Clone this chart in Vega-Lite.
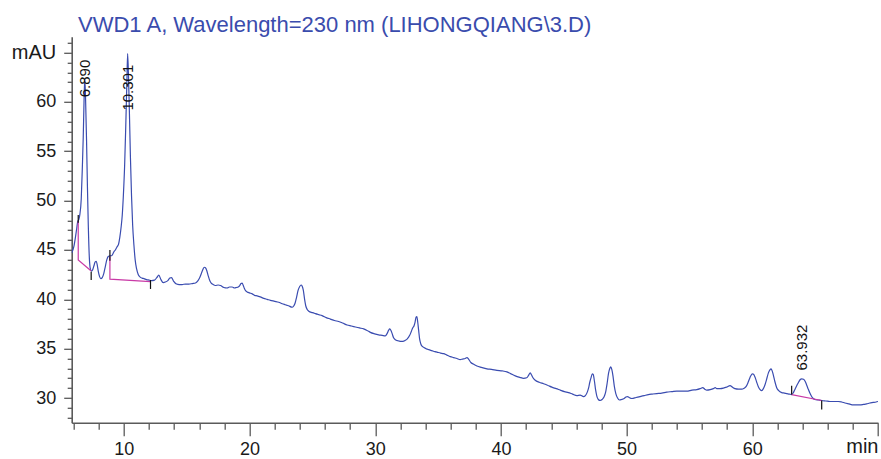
{
  "$schema": "https://vega.github.io/schema/vega-lite/v6.json",
  "width": 806.3,
  "height": 385.9,
  "autosize": {"type": "none"},
  "padding": {"left": 71.7, "top": 36.8, "right": 3, "bottom": 36.3},
  "background": "white",
  "config": {"view": {"stroke": null}, "font": "Liberation Sans"},
  "title": {
    "text": "VWD1 A, Wavelength=230 nm (LIHONGQIANG\\3.D)",
    "anchor": "start",
    "frame": "group",
    "dx": 6.3,
    "dy": 25,
    "offset": 5,
    "baseline": "alphabetic",
    "font": "Liberation Sans",
    "fontSize": 22,
    "fontWeight": "normal",
    "color": "#3a4cad"
  },
  "datasets": {
    "signal": [
      {"t":5.85,"v":44.7},{"t":6.03,"v":45.4},{"t":6.15,"v":46.3},{"t":6.24,"v":47.1},{"t":6.33,"v":47.9},{"t":6.42,"v":48.1},{"t":6.5,"v":48.6},{"t":6.61,"v":50.2},{"t":6.7,"v":53.5},{"t":6.77,"v":56.5},{"t":6.83,"v":60.0},{"t":6.89,"v":62.4},{"t":6.95,"v":60.5},{"t":7.03,"v":56.2},{"t":7.1,"v":51.5},{"t":7.17,"v":47.5},{"t":7.25,"v":44.3},{"t":7.33,"v":43.1},{"t":7.42,"v":42.85},{"t":7.52,"v":43.0},{"t":7.62,"v":43.4},{"t":7.72,"v":43.8},{"t":7.8,"v":43.85},{"t":7.88,"v":43.5},{"t":7.97,"v":42.8},{"t":8.07,"v":42.3},{"t":8.17,"v":42.1},{"t":8.28,"v":42.2},{"t":8.4,"v":42.6},{"t":8.52,"v":43.3},{"t":8.64,"v":44.0},{"t":8.76,"v":44.35},{"t":8.9,"v":44.4},{"t":9.05,"v":44.45},{"t":9.2,"v":44.8},{"t":9.32,"v":45.0},{"t":9.45,"v":45.3},{"t":9.58,"v":45.6},{"t":9.68,"v":46.3},{"t":9.78,"v":47.3},{"t":9.87,"v":48.5},{"t":9.96,"v":50.5},{"t":10.06,"v":53.5},{"t":10.15,"v":57.5},{"t":10.24,"v":62.0},{"t":10.3,"v":64.9},{"t":10.36,"v":63.0},{"t":10.44,"v":59.0},{"t":10.52,"v":54.5},{"t":10.61,"v":50.5},{"t":10.7,"v":47.5},{"t":10.8,"v":45.5},{"t":10.9,"v":44.0},{"t":11.01,"v":43.1},{"t":11.15,"v":42.5},{"t":11.3,"v":42.25},{"t":11.45,"v":42.15},{"t":11.6,"v":42.1},{"t":11.8,"v":42.0},{"t":12.0,"v":41.95},{"t":12.2,"v":41.9},{"t":12.44,"v":41.95},{"t":12.62,"v":42.2},{"t":12.78,"v":42.45},{"t":12.95,"v":42.0},{"t":13.13,"v":41.7},{"t":13.3,"v":41.75},{"t":13.5,"v":41.9},{"t":13.66,"v":42.15},{"t":13.79,"v":42.2},{"t":13.95,"v":41.85},{"t":14.19,"v":41.55},{"t":14.4,"v":41.5},{"t":14.64,"v":41.5},{"t":14.9,"v":41.55},{"t":15.17,"v":41.55},{"t":15.45,"v":41.6},{"t":15.7,"v":41.65},{"t":15.9,"v":41.9},{"t":16.04,"v":42.2},{"t":16.16,"v":42.6},{"t":16.28,"v":43.0},{"t":16.4,"v":43.25},{"t":16.49,"v":43.2},{"t":16.6,"v":42.9},{"t":16.72,"v":42.35},{"t":16.85,"v":41.85},{"t":16.95,"v":41.65},{"t":17.1,"v":41.5},{"t":17.29,"v":41.4},{"t":17.5,"v":41.45},{"t":17.69,"v":41.4},{"t":17.95,"v":41.2},{"t":18.22,"v":41.15},{"t":18.4,"v":41.25},{"t":18.62,"v":41.25},{"t":18.8,"v":41.15},{"t":18.96,"v":41.2},{"t":19.1,"v":41.25},{"t":19.22,"v":41.4},{"t":19.32,"v":41.6},{"t":19.41,"v":41.65},{"t":19.5,"v":41.4},{"t":19.59,"v":41.1},{"t":19.7,"v":40.85},{"t":19.81,"v":40.75},{"t":20.0,"v":40.65},{"t":20.21,"v":40.55},{"t":20.4,"v":40.4},{"t":20.6,"v":40.35},{"t":20.85,"v":40.25},{"t":21.13,"v":40.1},{"t":21.4,"v":40.0},{"t":21.66,"v":39.9},{"t":22.0,"v":39.8},{"t":22.32,"v":39.7},{"t":22.6,"v":39.55},{"t":22.85,"v":39.45},{"t":23.1,"v":39.35},{"t":23.38,"v":39.2},{"t":23.5,"v":39.3},{"t":23.62,"v":39.6},{"t":23.74,"v":40.2},{"t":23.86,"v":40.9},{"t":23.99,"v":41.3},{"t":24.1,"v":41.45},{"t":24.18,"v":41.35},{"t":24.28,"v":40.9},{"t":24.38,"v":40.0},{"t":24.47,"v":39.35},{"t":24.6,"v":38.95},{"t":24.71,"v":38.8},{"t":25.0,"v":38.65},{"t":25.24,"v":38.55},{"t":25.5,"v":38.45},{"t":25.77,"v":38.35},{"t":26.1,"v":38.15},{"t":26.43,"v":38.0},{"t":26.75,"v":37.85},{"t":27.09,"v":37.75},{"t":27.4,"v":37.6},{"t":27.76,"v":37.4},{"t":28.1,"v":37.3},{"t":28.42,"v":37.2},{"t":28.75,"v":37.1},{"t":29.08,"v":37.0},{"t":29.35,"v":36.85},{"t":29.61,"v":36.65},{"t":29.95,"v":36.5},{"t":30.27,"v":36.4},{"t":30.55,"v":36.35},{"t":30.8,"v":36.3},{"t":30.95,"v":36.55},{"t":31.06,"v":36.85},{"t":31.15,"v":37.0},{"t":31.25,"v":36.85},{"t":31.34,"v":36.55},{"t":31.46,"v":36.1},{"t":31.6,"v":35.9},{"t":31.8,"v":35.8},{"t":32.0,"v":35.75},{"t":32.2,"v":35.75},{"t":32.39,"v":35.85},{"t":32.55,"v":36.0},{"t":32.74,"v":36.35},{"t":32.87,"v":36.75},{"t":32.98,"v":37.1},{"t":33.08,"v":37.3},{"t":33.17,"v":37.7},{"t":33.25,"v":38.2},{"t":33.31,"v":38.25},{"t":33.38,"v":37.7},{"t":33.45,"v":36.9},{"t":33.53,"v":36.0},{"t":33.62,"v":35.5},{"t":33.72,"v":35.25},{"t":33.85,"v":35.15},{"t":34.05,"v":35.0},{"t":34.25,"v":34.9},{"t":34.5,"v":34.8},{"t":34.75,"v":34.7},{"t":34.91,"v":34.65},{"t":35.2,"v":34.55},{"t":35.44,"v":34.5},{"t":35.7,"v":34.35},{"t":35.97,"v":34.2},{"t":36.23,"v":34.1},{"t":36.5,"v":34.0},{"t":36.76,"v":33.9},{"t":36.95,"v":33.95},{"t":37.16,"v":34.0},{"t":37.3,"v":34.1},{"t":37.4,"v":34.0},{"t":37.5,"v":33.8},{"t":37.61,"v":33.6},{"t":37.8,"v":33.45},{"t":38.09,"v":33.25},{"t":38.45,"v":33.1},{"t":38.89,"v":32.95},{"t":39.25,"v":32.9},{"t":39.68,"v":32.8},{"t":40.1,"v":32.75},{"t":40.48,"v":32.65},{"t":40.8,"v":32.45},{"t":41.14,"v":32.25},{"t":41.5,"v":32.1},{"t":41.8,"v":32.0},{"t":42.05,"v":32.05},{"t":42.2,"v":32.3},{"t":42.33,"v":32.55},{"t":42.45,"v":32.3},{"t":42.55,"v":32.05},{"t":42.73,"v":31.8},{"t":43.05,"v":31.6},{"t":43.39,"v":31.45},{"t":43.7,"v":31.3},{"t":44.05,"v":31.1},{"t":44.4,"v":30.95},{"t":44.72,"v":30.8},{"t":45.05,"v":30.65},{"t":45.37,"v":30.55},{"t":45.7,"v":30.4},{"t":46.04,"v":30.25},{"t":46.3,"v":30.3},{"t":46.57,"v":30.15},{"t":46.72,"v":30.25},{"t":46.87,"v":30.6},{"t":46.97,"v":31.0},{"t":47.07,"v":31.6},{"t":47.18,"v":32.1},{"t":47.27,"v":32.45},{"t":47.34,"v":32.4},{"t":47.44,"v":31.7},{"t":47.53,"v":30.85},{"t":47.63,"v":30.2},{"t":47.75,"v":29.85},{"t":47.89,"v":29.75},{"t":48.05,"v":29.85},{"t":48.2,"v":30.1},{"t":48.33,"v":30.6},{"t":48.45,"v":31.5},{"t":48.56,"v":32.5},{"t":48.66,"v":33.0},{"t":48.74,"v":33.15},{"t":48.82,"v":32.9},{"t":48.92,"v":32.2},{"t":49.02,"v":31.2},{"t":49.14,"v":30.45},{"t":49.28,"v":30.0},{"t":49.43,"v":29.8},{"t":49.6,"v":29.85},{"t":49.8,"v":29.95},{"t":49.95,"v":30.1},{"t":50.06,"v":30.15},{"t":50.2,"v":30.05},{"t":50.42,"v":29.95},{"t":50.75,"v":30.05},{"t":51.07,"v":30.15},{"t":51.4,"v":30.25},{"t":51.73,"v":30.35},{"t":52.05,"v":30.4},{"t":52.4,"v":30.45},{"t":52.8,"v":30.5},{"t":53.19,"v":30.6},{"t":53.6,"v":30.65},{"t":53.99,"v":30.7},{"t":54.4,"v":30.7},{"t":54.78,"v":30.7},{"t":55.2,"v":30.8},{"t":55.58,"v":30.85},{"t":55.85,"v":30.95},{"t":56.06,"v":31.05},{"t":56.22,"v":30.9},{"t":56.38,"v":30.8},{"t":56.65,"v":30.85},{"t":56.9,"v":30.95},{"t":57.05,"v":31.05},{"t":57.17,"v":30.95},{"t":57.45,"v":30.95},{"t":57.7,"v":31.0},{"t":57.95,"v":31.1},{"t":58.23,"v":31.25},{"t":58.42,"v":31.1},{"t":58.62,"v":30.95},{"t":58.9,"v":30.9},{"t":59.16,"v":30.9},{"t":59.35,"v":31.0},{"t":59.5,"v":31.15},{"t":59.64,"v":31.5},{"t":59.76,"v":31.9},{"t":59.88,"v":32.25},{"t":60.0,"v":32.45},{"t":60.1,"v":32.4},{"t":60.22,"v":32.1},{"t":60.35,"v":31.6},{"t":60.48,"v":31.15},{"t":60.62,"v":30.85},{"t":60.75,"v":30.75},{"t":60.88,"v":30.95},{"t":61.01,"v":31.35},{"t":61.15,"v":31.95},{"t":61.28,"v":32.55},{"t":61.4,"v":32.85},{"t":61.49,"v":32.95},{"t":61.58,"v":32.75},{"t":61.67,"v":32.35},{"t":61.8,"v":31.65},{"t":61.94,"v":31.05},{"t":62.1,"v":30.75},{"t":62.34,"v":30.55},{"t":62.55,"v":30.5},{"t":62.74,"v":30.45},{"t":62.95,"v":30.4},{"t":63.13,"v":30.35},{"t":63.27,"v":30.55},{"t":63.4,"v":30.9},{"t":63.53,"v":31.25},{"t":63.66,"v":31.55},{"t":63.8,"v":31.85},{"t":63.93,"v":31.95},{"t":64.07,"v":31.9},{"t":64.2,"v":31.7},{"t":64.33,"v":31.3},{"t":64.45,"v":30.9},{"t":64.58,"v":30.5},{"t":64.72,"v":30.15},{"t":64.85,"v":29.95},{"t":64.98,"v":29.85},{"t":65.25,"v":29.8},{"t":65.52,"v":29.75},{"t":65.85,"v":29.7},{"t":66.18,"v":29.65},{"t":66.5,"v":29.65},{"t":66.84,"v":29.65},{"t":67.1,"v":29.6},{"t":67.37,"v":29.5},{"t":67.7,"v":29.4},{"t":68.03,"v":29.3},{"t":68.3,"v":29.3},{"t":68.56,"v":29.3},{"t":68.85,"v":29.35},{"t":69.09,"v":29.4},{"t":69.35,"v":29.5},{"t":69.62,"v":29.55},{"t":69.85,"v":29.6},{"t":70.0,"v":29.65}
    ],
    "baselines": [
      {"seg":1,"o":0,"t":6.37,"v":47.9},{"seg":1,"o":1,"t":6.37,"v":44.0},{"seg":1,"o":2,"t":7.38,"v":42.9},
      {"seg":2,"o":0,"t":8.89,"v":44.35},{"seg":2,"o":1,"t":8.89,"v":42.05},{"seg":2,"o":2,"t":12.12,"v":41.8},
      {"seg":3,"o":0,"t":63.13,"v":30.35},{"seg":3,"o":1,"t":65.52,"v":29.75}
    ],
    "marks": [
      {"t":6.37,"a":48.55,"b":47.75},
      {"t":7.4,"a":42.8,"b":41.95},
      {"t":8.89,"a":45.0,"b":43.9},
      {"t":12.12,"a":41.95,"b":41.05},
      {"t":63.13,"a":31.25,"b":30.35},
      {"t":65.52,"a":29.75,"b":28.85}
    ],
    "labels": [
      {"t":6.89,"v":64.28,"label":"6.890"},
      {"t":10.301,"v":63.77,"label":"10.301"},
      {"t":63.932,"v":37.44,"label":"63.932"}
    ]
  },
  "encoding": {
    "x": {
      "field": "t", "type": "quantitative",
      "scale": {"domain": [5.85, 70], "nice": false, "zero": false},
      "axis": {
        "title": null, "grid": false,
        "values": [6,8,10,12,14,16,18,20,22,24,26,28,30,32,34,36,38,40,42,44,46,48,50,52,54,56,58,60,62,64,66,68,70],
        "labelExpr": "datum.value == 70 ? 'min' : (datum.value % 10 == 0 ? datum.label : '')",
        "labelOverlap": false,
        "labelFlush": false,
        "labelAlign": {"condition": {"test": "datum.value == 70", "value": "right"}, "value": "center"},
        "labelFontSize": {"condition": {"test": "datum.value == 70", "value": 20}, "value": 18},
        "labelPadding": {"condition": {"test": "datum.value == 70", "value": 1}, "value": 5},
        "labelFont": "Liberation Sans",
        "labelColor": "#1a1a1a",
        "domainColor": "#5a5a5a", "domainWidth": 1.6,
        "tickColor": "#5a5a5a", "tickWidth": 1.3,
        "tickSize": {"condition": {"test": "datum.value % 10 == 0", "value": 13}, "value": 6.5}
      }
    },
    "y": {
      "field": "v", "type": "quantitative",
      "scale": {"domain": [27.5, 66.6], "nice": false, "zero": false},
      "axis": {
        "title": null, "grid": false,
        "values": [28,29,30,31,32,33,34,35,36,37,38,39,40,41,42,43,44,45,46,47,48,49,50,51,52,53,54,55,56,57,58,59,60,61,62,63,64,65,66],
        "labelExpr": "datum.value == 65 ? 'mAU' : (datum.value % 5 == 0 ? datum.label : '')",
        "labelOverlap": false,
        "labelFlush": false,
        "labelFontSize": {"condition": {"test": "datum.value == 65", "value": 20}, "value": 18},
        "labelFont": "Liberation Sans",
        "labelColor": "#1a1a1a",
        "labelPadding": 8,
        "domainColor": "#5a5a5a", "domainWidth": 1.6,
        "tickColor": "#5a5a5a", "tickWidth": 1.3,
        "tickSize": {"condition": {"test": "datum.value % 5 == 0", "value": 8}, "value": 4.5}
      }
    }
  },
  "layer": [
    {
      "data": {"name": "signal"},
      "mark": {"type": "line", "color": "#3a4cb0", "strokeWidth": 1.2, "interpolate": "monotone", "clip": true},
      "encoding": {"order": {"field": "t", "type": "quantitative"}}
    },
    {
      "data": {"name": "baselines"},
      "mark": {"type": "line", "color": "#c93aa6", "strokeWidth": 1.2},
      "encoding": {
        "detail": {"field": "seg", "type": "nominal"},
        "order": {"field": "o", "type": "quantitative"}
      }
    },
    {
      "data": {"name": "marks"},
      "mark": {"type": "rule", "color": "#111111", "strokeWidth": 1.2},
      "encoding": {
        "y": {"field": "a", "type": "quantitative"},
        "y2": {"field": "b"}
      }
    },
    {
      "data": {"name": "labels"},
      "mark": {"type": "text", "angle": 270, "align": "right", "baseline": "middle", "fontSize": 15, "font": "Liberation Sans", "color": "#111111"},
      "encoding": {"text": {"field": "label", "type": "nominal"}}
    }
  ]
}
